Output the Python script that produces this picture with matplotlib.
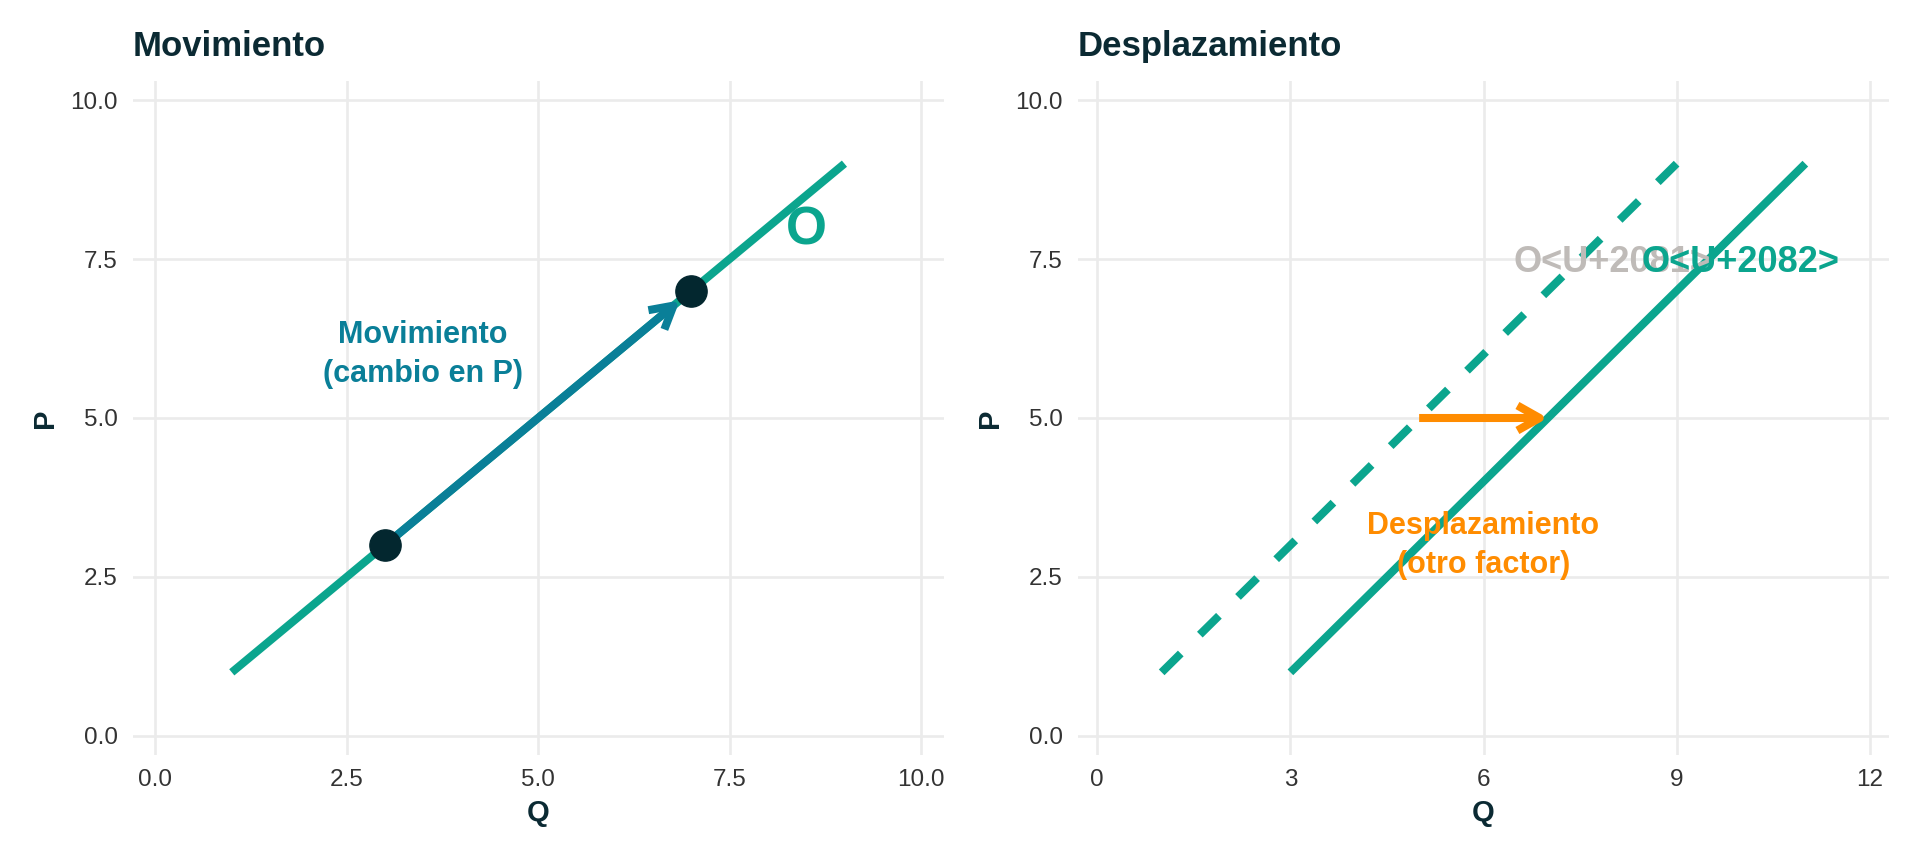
import matplotlib
matplotlib.use("Agg")
import matplotlib.pyplot as plt

plt.rcParams['font.family'] = ['Liberation Sans', 'DejaVu Sans']

teal = "#0BA58E"
blue = "#0A7F98"
dark = "#03272F"
orange = "#FF8C00"
gray_lbl = "#BFBBB8"
title_col = "#0B2A33"
grid_col = "#EBEBEB"

# left panel: movement along the supply curve
oferta_q = [1, 9]
oferta_p = [1, 9]
puntos_q = [3, 7]
puntos_p = [3, 7]
mov_inicio = (3, 3)
mov_fin = (6.85, 6.85)

# right panel: shift of the supply curve
o1_q = [1, 9]
o1_p = [1, 9]
o2_q = [3, 11]
o2_p = [1, 9]
despl_inicio = (5, 5)
despl_fin = (7, 5)

left_xticks = [0, 2.5, 5, 7.5, 10]
right_xticks = [0, 3, 6, 9, 12]
yticks = [0, 2.5, 5, 7.5, 10]

fig = plt.figure(figsize=(19.2, 8.64), dpi=100)
ax1 = fig.add_axes([133 / 1920, 109 / 864, 811 / 1920, 674 / 864])
ax2 = fig.add_axes([1078 / 1920, 109 / 864, 811 / 1920, 674 / 864])


def style(ax, xticks, xlim, fmt):
    ax.set_xlim(*xlim)
    ax.set_ylim(-0.3, 10.3)
    ax.set_xticks(xticks)
    ax.set_yticks(yticks)
    ax.set_xticklabels([fmt(v) for v in xticks])
    ax.set_yticklabels(["%.1f" % v for v in yticks])
    for s in ax.spines.values():
        s.set_visible(False)
    ax.grid(True, color=grid_col, lw=1.9)
    ax.set_axisbelow(True)
    ax.tick_params(length=0, labelsize=17.5, labelcolor="#333333")
    ax.tick_params(axis="y", pad=11)
    ax.tick_params(axis="x", pad=10)
    ax.set_xlabel("Q", fontsize=21, fontweight="bold", color=title_col, labelpad=6)
    ax.set_ylabel("P", fontsize=21, fontweight="bold", color=title_col, labelpad=8)


style(ax1, left_xticks, (-0.29, 10.3), lambda v: "%.1f" % v)
style(ax2, right_xticks, (-0.3, 12.3), lambda v: "%d" % v)

# --- Movimiento
ax1.plot(oferta_q, oferta_p, color=teal, lw=5.8, solid_capstyle="butt", zorder=2)
ax1.annotate("", xy=mov_fin, xytext=mov_inicio,
             arrowprops=dict(arrowstyle="->,head_length=0.8,head_width=0.45",
                             color=blue, lw=5.8, shrinkA=0, shrinkB=0,
                             capstyle="butt", mutation_scale=20), zorder=3)
ax1.plot(puntos_q, puntos_p, "o", color=dark, ms=22.5, zorder=4)
ax1.text(8.5, 7.95, "O", color=teal, fontsize=38, fontweight="bold",
         ha="center", va="center")
ax1.text(3.5, 6.0, "Movimiento\n(cambio en P)", color=blue, fontsize=22,
         fontweight="bold", ha="center", va="center", linespacing=1.4)
ax1.set_title("Movimiento", loc="left", fontsize=25, fontweight="bold",
              color=title_col, pad=18)

# --- Desplazamiento
line, = ax2.plot(o1_q, o1_p, color=teal, lw=5.8, dash_capstyle="butt", zorder=2)
line.set_dashes([3.33, 3.33])
ax2.plot(o2_q, o2_p, color=teal, lw=5.8, solid_capstyle="butt", zorder=2)
ax2.annotate("", xy=despl_fin, xytext=despl_inicio,
             arrowprops=dict(arrowstyle="->,head_length=0.8,head_width=0.45",
                             color=orange, lw=5.8, shrinkA=0, shrinkB=0,
                             capstyle="butt", mutation_scale=20), zorder=3)
ax2.text(8, 7.45, "O<U+2081>", color=gray_lbl, fontsize=26, fontweight="bold",
         ha="center", va="center", zorder=4)
ax2.text(10, 7.45, "O<U+2082>", color=teal, fontsize=26, fontweight="bold",
         ha="center", va="center", zorder=5)
ax2.text(6, 3.0, "Desplazamiento\n(otro factor)", color=orange, fontsize=22,
         fontweight="bold", ha="center", va="center", linespacing=1.4)
ax2.set_title("Desplazamiento", loc="left", fontsize=25, fontweight="bold",
              color=title_col, pad=18)

fig.savefig("out.png", dpi=100, facecolor="white")
